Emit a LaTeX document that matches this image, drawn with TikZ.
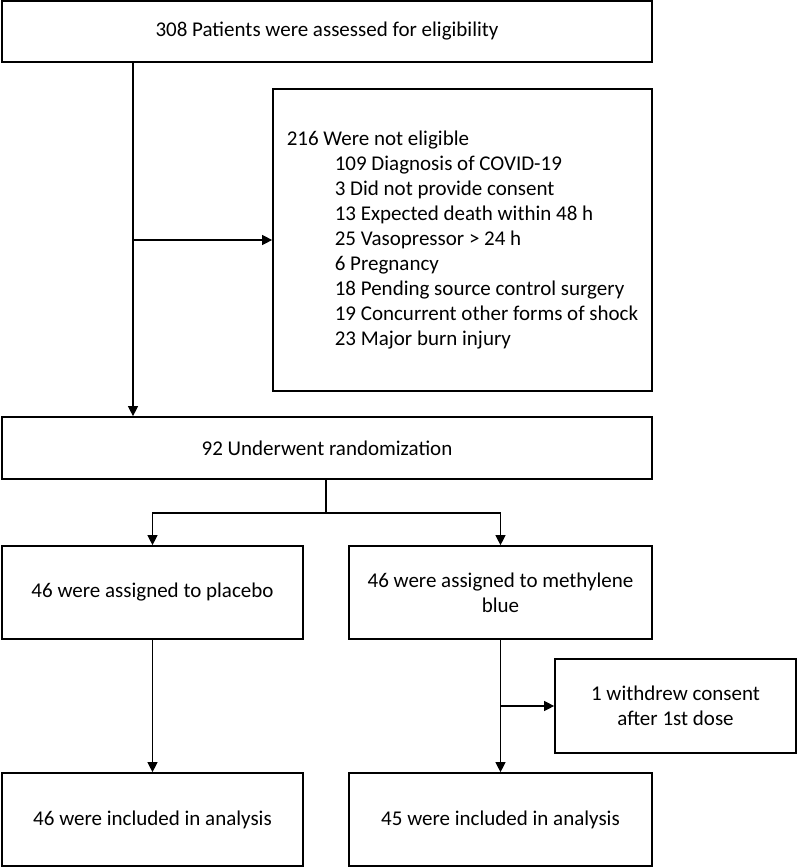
\documentclass[tikz,border=0pt]{standalone}
\usepackage{fontspec}
\setmainfont{Carlito}
\usetikzlibrary{arrows.meta}
\tikzset{
    box/.style={draw,line width=1.7pt,inner sep=0pt,align=center,font=\fontsize{21}{25}\selectfont},
    link/.style={line width=1.2pt,-{Triangle[length=10pt,width=10pt]}},
    plain/.style={line width=1.2pt}
}

\begin{document}
\begin{tikzpicture}[x=1pt,y=-1pt]
    \useasboundingbox (0,0) rectangle (797,868);
    \node[box,minimum width=650pt,minimum height=61pt] (assess) at (327,31.5) {308 Patients were assessed for eligibility};
    \node[box,minimum width=379pt,minimum height=302pt,align=left] (excl) at (462.5,240)
        {216 Were not eligible\\
         \hspace*{48pt}109 Diagnosis of COVID-19\\
         \hspace*{48pt}3 Did not provide consent\\
         \hspace*{48pt}13 Expected death within 48 h\\
         \hspace*{48pt}25 Vasopressor > 24 h\\
         \hspace*{48pt}6 Pregnancy\\
         \hspace*{48pt}18 Pending source control surgery\\
         \hspace*{48pt}19 Concurrent other forms of shock\\
         \hspace*{48pt}23 Major burn injury};
    \node[box,minimum width=650pt,minimum height=62pt] (rand) at (327,448) {92 Underwent randomization};
    \node[box,minimum width=301pt,minimum height=93pt] (placebo) at (152.5,592.5) {46 were assigned to placebo};
    \node[box,minimum width=303pt,minimum height=93pt] (mb) at (500.5,592.5) {46 were assigned to methylene\\blue};
    \node[box,minimum width=241pt,minimum height=94pt] (withdraw) at (675.5,706) {1 withdrew consent\\after 1st dose};
    \node[box,minimum width=301pt,minimum height=93pt] (placeboend) at (152.5,819.5) {46 were included in analysis};
    \node[box,minimum width=303pt,minimum height=93pt] (mbend) at (500.5,819.5) {45 were included in analysis};

    % screening
    \coordinate (screen) at (133,240);
    \draw[link] (assess.south -| screen) -- (rand.north -| screen);
    \draw[link] (screen) -- (excl.west);

    % allocation
    \coordinate (fork) at (326,513);
    \draw[plain] (rand.south -| fork) -- (fork);
    \draw[link] (fork) -| (placebo.north);
    \draw[link] (fork) -| (mb.north);

    % follow-up
    \coordinate (drop) at (mb.south |- withdraw.west);
    \draw[link] (placebo.south) -- (placeboend.north);
    \draw[link] (mb.south) -- (mbend.north);
    \draw[link] (drop) -- (withdraw.west);
\end{tikzpicture}
\end{document}
